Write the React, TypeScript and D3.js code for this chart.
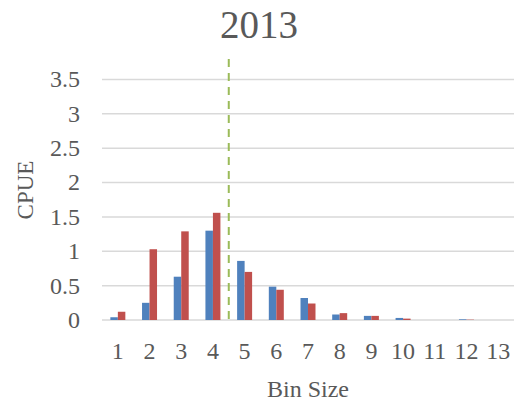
import React from "react";
import * as d3 from "d3";

const categories = ["1", "2", "3", "4", "5", "6", "7", "8", "9", "10", "11", "12", "13"];
const seriesA = [0.04, 0.25, 0.63, 1.3, 0.86, 0.485, 0.32, 0.08, 0.06, 0.03, 0, 0.01, 0];
const seriesB = [0.12, 1.03, 1.29, 1.56, 0.7, 0.44, 0.24, 0.1, 0.06, 0.02, 0, 0.005, 0];
const yTicks = [0, 0.5, 1, 1.5, 2, 2.5, 3, 3.5];
const yTickLabels = ["0", "0.5", "1", "1.5", "2", "2.5", "3", "3.5"];
const cutoffAfter = "4";

const W = 518;
const H = 407;
const left = 102;
const right = 514;
const top = 79.5;
const bottom = 320;
const font = "'Liberation Serif', 'Times New Roman', serif";
const textColor = "#595959";

export default function App() {
  const x = d3
    .scaleBand<string>()
    .domain(categories)
    .range([left, right])
    .paddingInner(0.527)
    .paddingOuter(0.2635);
  const y = d3.scaleLinear().domain([0, 3.5]).range([bottom, top]);
  const inner = d3.scaleBand<string>().domain(["a", "b"]).range([0, x.bandwidth()]);
  const step = x.step();
  const cutX = left + (categories.indexOf(cutoffAfter) + 1) * step;

  const series = [
    { key: "a", values: seriesA, color: "#4F81BD" },
    { key: "b", values: seriesB, color: "#C0504D" },
  ];

  return (
    <svg
      width={W}
      height={H}
      style={{ position: "absolute", left: 0, top: 0, background: "#fff" }}
    >
      <text x={259} y={38} textAnchor="middle" fontFamily={font} fontSize={39} fill={textColor}>
        2013
      </text>
      {yTicks.map((t, i) => (
        <g key={t}>
          <line x1={left} x2={right} y1={y(t)} y2={y(t)} stroke="#D9D9D9" strokeWidth={1.5} />
          <text
            x={80}
            y={y(t)}
            dy="0.33em"
            textAnchor="end"
            fontFamily={font}
            fontSize={24}
            fill={textColor}
          >
            {yTickLabels[i]}
          </text>
        </g>
      ))}
      {series.map((s) =>
        s.values.map((v, i) => {
          const cat = categories[i];
          const bx = (x(cat) ?? 0) + (inner(s.key) ?? 0);
          return (
            <rect
              key={s.key + cat}
              x={bx}
              y={y(v)}
              width={inner.bandwidth()}
              height={bottom - y(v)}
              fill={s.color}
            />
          );
        })
      )}
      <line
        x1={cutX}
        x2={cutX}
        y1={59}
        y2={bottom}
        stroke="#9BBB59"
        strokeWidth={2}
        strokeDasharray="8,6"
      />
      {categories.map((c) => (
        <text
          key={c}
          x={(x(c) ?? 0) + x.bandwidth() / 2}
          y={359}
          textAnchor="middle"
          fontFamily={font}
          fontSize={24}
          fill={textColor}
        >
          {c}
        </text>
      ))}
      <text x={308} y={397} textAnchor="middle" fontFamily={font} fontSize={24} fill={textColor}>
        Bin Size
      </text>
      <text
        transform={`translate(33, 190) rotate(-90)`}
        textAnchor="middle"
        fontFamily={font}
        fontSize={23}
        fill={textColor}
      >
        CPUE
      </text>
    </svg>
  );
}
